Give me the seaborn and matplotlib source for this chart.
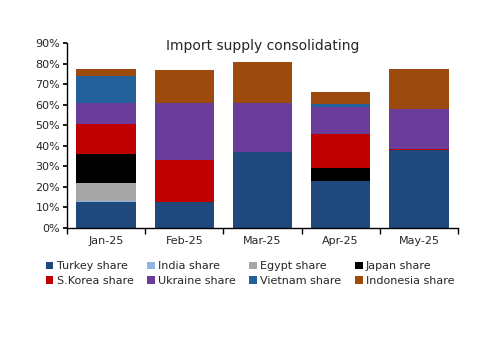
import matplotlib
matplotlib.use("Agg")
import matplotlib.pyplot as plt
import seaborn as sns
import pandas as pd
import numpy as np
from matplotlib.patches import Patch

months = ["Jan-25", "Feb-25", "Mar-25", "Apr-25", "May-25"]
series_names = ["Turkey share", "India share", "Egypt share", "Japan share",
                "S.Korea share", "Ukraine share", "Vietnam share", "Indonesia share"]
turkey    = [12.5, 12.5, 37.1, 22.9, 38.0]
india     = [0.6, 0.0, 0.0, 0.0, 0.0]
egypt     = [8.9, 0.0, 0.0, 0.0, 0.0]
japan     = [14.1, 0.0, 0.0, 6.2, 0.0]
skorea    = [14.6, 20.8, 0.0, 16.6, 0.5]
ukraine   = [10.0, 27.5, 23.7, 13.2, 19.5]
vietnam   = [13.3, 0.0, 0.0, 1.6, 0.0]
indonesia = [3.6, 16.1, 20.2, 5.7, 19.6]
colors = ["#1F497D", "#8DB4E2", "#A6A6A6", "#000000",
          "#C00000", "#6B3D9A", "#22619A", "#9C4A0E"]

values = [turkey, india, egypt, japan, skorea, ukraine, vietnam, indonesia]
df = pd.DataFrame({name: v for name, v in zip(series_names, values)}, index=months)
cum = df.cumsum(axis=1) / 100.0

sns.set_theme(style="white")
plt.rcParams['font.family'] = ['DejaVu Sans']

fig = plt.figure(figsize=(5, 3.53), dpi=100)
ax = fig.add_axes([0.134, 0.355, 0.782, 0.522])

for name, color in reversed(list(zip(series_names, colors))):
    d = pd.DataFrame({"month": months, "val": cum[name].values})
    sns.barplot(data=d, x="month", y="val", color=color, width=0.76,
                saturation=1, ax=ax, edgecolor="none", linewidth=0)

ax.set_ylim(0, 0.9)
ax.set_xlim(-0.5, 4.5)
ax.set_yticks(np.arange(0, 0.91, 0.1))
ax.set_yticklabels([f"{int(round(t*100))}%" for t in np.arange(0, 0.91, 0.1)], fontsize=8)
ax.set_xticks(range(5))
ax.set_xticklabels(months, fontsize=8)
ax.set_xticks(np.arange(-0.5, 5, 1), minor=True)
ax.tick_params(axis="x", which="major", length=0, pad=6)
ax.tick_params(axis="x", which="minor", length=4, direction="out", color="black", bottom=True)
ax.tick_params(axis="y", length=3, direction="out", color="black", left=True, pad=2)
ax.set_xlabel("")
ax.set_ylabel("")
for s in ["top", "right"]:
    ax.spines[s].set_visible(False)
for s in ["left", "bottom"]:
    ax.spines[s].set_color("black")
    ax.spines[s].set_linewidth(1)

ax.text(0.5, 0.985, "Import supply consolidating", transform=ax.transAxes,
        ha="center", va="center", fontsize=10)

handles = [Patch(facecolor=c, edgecolor="none") for c in colors]
order = [0, 4, 1, 5, 2, 6, 3, 7]
fig.legend([handles[i] for i in order], [series_names[i] for i in order],
           loc="center", bbox_to_anchor=(0.5, 0.225),
           ncol=4, frameon=False, fontsize=8, handlelength=0.7, handleheight=0.7,
           handletextpad=0.3, columnspacing=1.2, labelspacing=0.4)

fig.savefig("out.png", dpi=100)
